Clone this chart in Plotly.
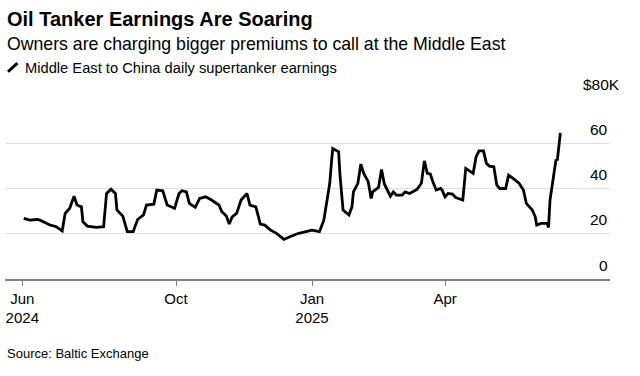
import plotly.graph_objects as go

dates = [
    "2024-06-20", "2024-06-24", "2024-06-29", "2024-07-01", "2024-07-08", "2024-07-12",
    "2024-07-16", "2024-07-18", "2024-07-21", "2024-07-24", "2024-07-26", "2024-07-29",
    "2024-07-30", "2024-08-02", "2024-08-08", "2024-08-13", "2024-08-15", "2024-08-18",
    "2024-08-21", "2024-08-22", "2024-08-26", "2024-08-29", "2024-09-02", "2024-09-05",
    "2024-09-09", "2024-09-11", "2024-09-16", "2024-09-18", "2024-09-22", "2024-09-25",
    "2024-09-30", "2024-10-03", "2024-10-05", "2024-10-08", "2024-10-10", "2024-10-14",
    "2024-10-17", "2024-10-21", "2024-10-25", "2024-10-30", "2024-11-01", "2024-11-04",
    "2024-11-06", "2024-11-08", "2024-11-11", "2024-11-14", "2024-11-18", "2024-11-20",
    "2024-11-24", "2024-11-27", "2024-11-30", "2024-12-04", "2024-12-08", "2024-12-13",
    "2024-12-17", "2024-12-23", "2025-01-01", "2025-01-06", "2025-01-09", "2025-01-11",
    "2025-01-13", "2025-01-14", "2025-01-15", "2025-01-19", "2025-01-20", "2025-01-22",
    "2025-01-26", "2025-01-28", "2025-01-29", "2025-02-01", "2025-02-03", "2025-02-05",
    "2025-02-08", "2025-02-10", "2025-02-11", "2025-02-15", "2025-02-17", "2025-02-19",
    "2025-02-23", "2025-02-25", "2025-02-27", "2025-03-03", "2025-03-05", "2025-03-08",
    "2025-03-13", "2025-03-16", "2025-03-18", "2025-03-20", "2025-03-22", "2025-03-24",
    "2025-03-26", "2025-03-29", "2025-03-30", "2025-04-01", "2025-04-03", "2025-04-06",
    "2025-04-08", "2025-04-10", "2025-04-13", "2025-04-15", "2025-04-18", "2025-04-20",
    "2025-04-22", "2025-04-24", "2025-04-27", "2025-04-29", "2025-05-01", "2025-05-04",
    "2025-05-06", "2025-05-08", "2025-05-12", "2025-05-14", "2025-05-17", "2025-05-21",
    "2025-05-24", "2025-05-26", "2025-05-30", "2025-06-01", "2025-06-02", "2025-06-05",
    "2025-06-09", "2025-06-10", "2025-06-11", "2025-06-13", "2025-06-15", "2025-06-16",
    "2025-06-18",
]

earnings_k = [
    26.8, 26.0, 26.3, 26.0, 23.8, 23.1,
    21.3, 29.0, 31.2, 36.6, 32.7, 31.9,
    25.3, 23.4, 22.8, 23.1, 37.8, 39.7,
    37.8, 30.5, 27.8, 20.9, 20.9, 26.3,
    28.3, 32.7, 33.1, 39.3, 39.0, 32.7,
    31.2, 37.8, 39.0, 38.5, 33.4, 31.7,
    35.6, 36.3, 34.9, 32.7, 29.7, 27.8,
    24.3, 27.5, 29.0, 34.9, 37.8, 32.7,
    31.9, 24.3, 23.8, 21.6, 20.2, 17.5,
    18.7, 20.2, 21.6, 20.9, 26.0, 33.4,
    42.3, 50.3, 57.7, 56.2, 45.2, 30.5,
    28.3, 31.9, 38.5, 42.3, 50.8, 46.7,
    43.0, 35.6, 38.5, 40.5, 48.4, 41.9,
    36.6, 38.5, 37.1, 37.1, 38.5, 37.8,
    39.6, 42.3, 52.2, 46.7, 46.4, 42.5,
    39.3, 40.0, 39.3, 36.3, 37.8, 37.5,
    36.1, 35.6, 34.9, 48.9, 47.4, 46.7,
    54.0, 56.6, 56.6, 51.1, 49.9, 49.6,
    41.5, 40.0, 40.0, 45.9, 44.5, 42.3,
    39.3, 33.4, 30.5, 27.5, 23.8, 24.6,
    24.6, 22.8, 34.9, 43.7, 52.5, 52.8,
    64.6,
]

tick_dates = ["2024-06-19", "2024-10-01", "2025-01-01", "2025-04-01"]
tick_text = ["Jun<br>2024", "Oct", "Jan<br>2025", "Apr"]

y_ticks = [0, 20, 40, 60, 80]
y_labels = ["0", "20", "40", "60", "$80K"]

FONT = "Liberation Sans, Arial, sans-serif"

fig = go.Figure()
fig.add_trace(go.Scatter(
    x=dates, y=earnings_k, mode="lines",
    line=dict(color="#000000", width=2.8),
    hoverinfo="skip", showlegend=False,
))

annotations = []
for v, lab in zip(y_ticks, y_labels):
    annotations.append(dict(
        x=1, xref="paper", y=v, yref="y", text=lab, showarrow=False,
        xanchor="right", yanchor="middle", yshift=14,
        xshift=(12 if lab.endswith("K") else 0),
        font=dict(family=FONT, size=15.5, color="#000000"),
    ))

annotations += [
    dict(x=0, xref="paper", y=1.436, yref="paper", text="<b>Oil Tanker Earnings Are Soaring</b>",
         showarrow=False, xanchor="left", yanchor="middle",
         font=dict(family=FONT, size=20, color="#000000")),
    dict(x=0, xref="paper", y=1.301, yref="paper",
         text="Owners are charging bigger premiums to call at the Middle East",
         showarrow=False, xanchor="left", yanchor="middle",
         font=dict(family=FONT, size=17.7, color="#000000")),
    dict(x=0, xref="paper", xshift=18, y=1.167, yref="paper",
         text="Middle East to China daily supertanker earnings",
         showarrow=False, xanchor="left", yanchor="middle",
         font=dict(family=FONT, size=14.7, color="#000000")),
    dict(x=0, xref="paper", y=-0.412, yref="paper", text="Source: Baltic Exchange",
         showarrow=False, xanchor="left", yanchor="middle",
         font=dict(family=FONT, size=13, color="#000000")),
]

fig.update_layout(
    width=640, height=376,
    margin=dict(l=5, r=30, t=98, b=97),
    paper_bgcolor="#ffffff", plot_bgcolor="#ffffff",
    annotations=annotations,
    shapes=[dict(type="line", xref="paper", yref="paper",
                 x0=0.005, y0=1.145, x1=0.0205, y1=1.193,
                 line=dict(color="#000000", width=3))],
    xaxis=dict(
        type="date", range=["2024-06-07 07:00", "2025-07-21 14:00"],
        tickvals=tick_dates, ticktext=tick_text,
        showgrid=False, showline=True, linecolor="#808080", linewidth=1.5,
        ticks="outside", ticklen=5, tickcolor="#808080", tickwidth=1,
        ticklabelstandoff=0,
        tickfont=dict(family=FONT, size=15, color="#000000"),
        fixedrange=True,
    ),
    yaxis=dict(
        range=[0, 80], tickvals=y_ticks, showticklabels=False,
        showgrid=True, gridcolor="#e0e0e0", gridwidth=1,
        zeroline=False, showline=False, fixedrange=True,
    ),
)

fig.write_html("out.html", config={"displayModeBar": False},
               post_script="document.body.style.margin='0';")
